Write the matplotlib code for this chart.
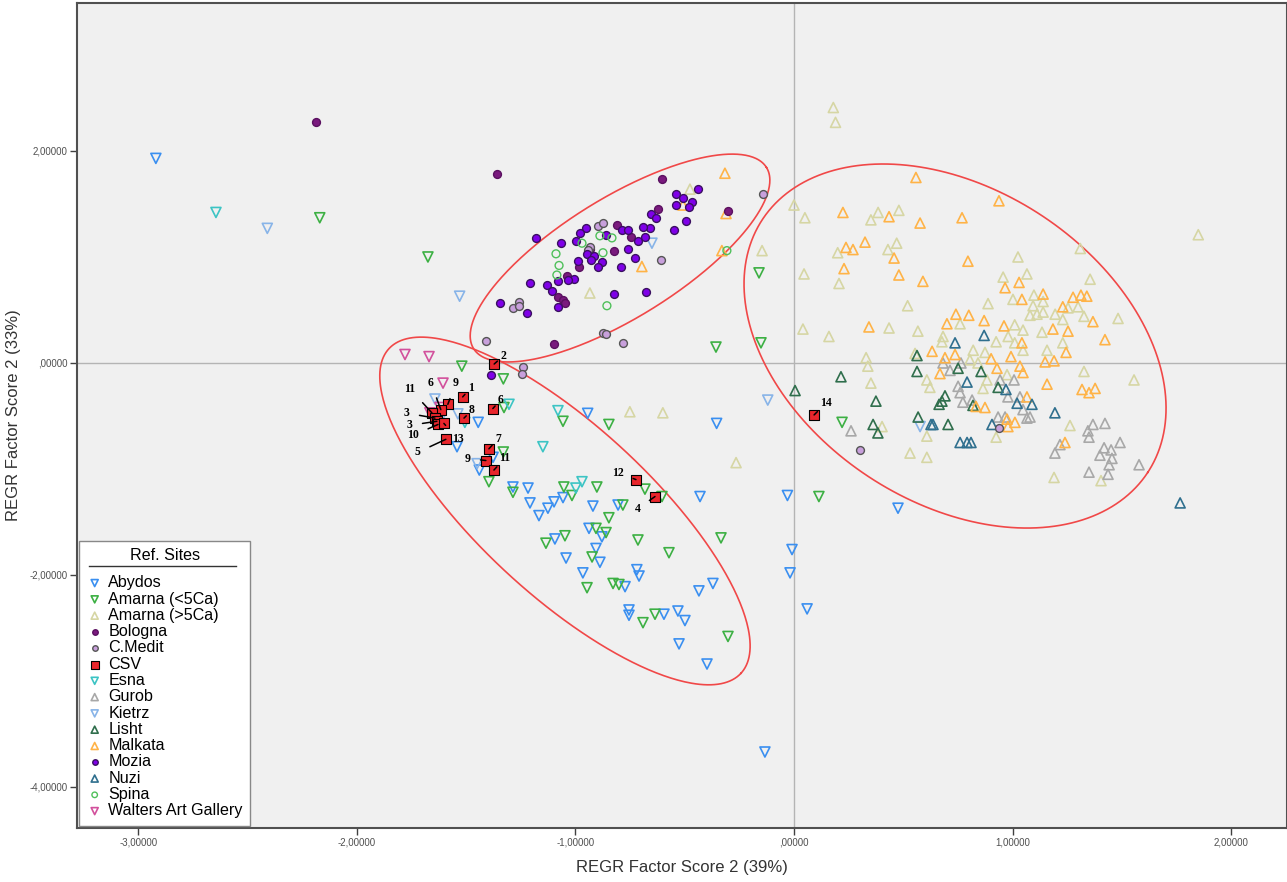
import numpy as np
import matplotlib
matplotlib.use("Agg")
import matplotlib.pyplot as plt
from matplotlib.ticker import FuncFormatter
from matplotlib.lines import Line2D
from matplotlib.transforms import IdentityTransform

plt.rcParams['font.family'] = ['Liberation Sans', 'DejaVu Sans']

# --- data (factor scores) ---
abydos = [(-2.92, 1.93), (-0.944, -0.475), (-0.354, -0.57), (-1.445, -0.56), (-1.542, -0.79),
          (-1.377, -0.89), (-1.44, -1.01), (-1.286, -1.17), (-1.217, -1.18), (-1.208, -1.32),
          (-1.167, -1.44), (-1.126, -1.37), (-1.098, -1.31), (-1.057, -1.27), (-0.92, -1.35),
          (-0.805, -1.34), (-0.43, -1.26), (-0.938, -1.56), (-0.879, -1.64), (-1.094, -1.66),
          (-0.906, -1.75), (-1.043, -1.84), (-0.888, -1.88), (-0.966, -1.98), (-0.719, -1.95),
          (-0.709, -2.01), (-0.773, -2.11), (-0.371, -2.08), (-0.435, -2.15), (-0.755, -2.33),
          (-0.755, -2.38), (-0.595, -2.37), (-0.531, -2.34), (-0.499, -2.43), (-0.526, -2.65),
          (-0.398, -2.84), (-0.133, -3.67), (0.06, -2.32), (-0.018, -1.98), (-0.009, -1.76),
          (-0.03, -1.25), (0.476, -1.37)]
amarna_lo = [(-2.17, 1.37), (-1.675, 1.0), (-1.52, -0.03), (-0.357, 0.15), (-0.16, 0.85),
             (-0.151, 0.19), (0.114, -1.26), (0.22, -0.56), (-1.33, -0.15), (-1.327, -0.42),
             (-1.33, -0.84), (-1.396, -1.12), (-1.057, -0.55), (-0.847, -0.58), (-1.286, -1.22),
             (-1.053, -1.17), (-1.016, -1.25), (-0.902, -1.17), (-0.682, -1.19), (-0.604, -1.26),
             (-0.783, -1.34), (-0.847, -1.46), (-1.048, -1.63), (-1.135, -1.70), (-0.906, -1.56),
             (-0.86, -1.60), (-0.714, -1.67), (-0.572, -1.79), (-0.924, -1.83), (-0.334, -1.65),
             (-0.947, -2.12), (-0.828, -2.08), (-0.801, -2.09), (-0.691, -2.45), (-0.636, -2.37),
             (-0.302, -2.58)]
amarna_hi = [(0.18, 2.41), (0.19, 2.27), (1.85, 1.21), (-0.476, 1.64), (-0.934, 0.66),
             (-0.146, 1.06), (-0.751, -0.46), (-0.6, -0.47), (-0.265, -0.94), (0.0, 1.49),
             (0.05, 1.37), (0.385, 1.42), (0.48, 1.44), (0.352, 1.35), (0.2, 1.04), (0.43, 1.07),
             (0.47, 1.13), (0.046, 0.84), (0.206, 0.75), (0.52, 0.54), (1.31, 1.08), (1.025, 1.0),
             (0.957, 0.81), (1.066, 0.84), (1.355, 0.79), (0.888, 0.56), (1.002, 0.6),
             (1.098, 0.64), (1.14, 0.58), (1.094, 0.54), (1.08, 0.45), (1.112, 0.46), (1.14, 0.48),
             (1.195, 0.46), (1.23, 0.41), (1.254, 0.52), (1.30, 0.53), (1.327, 0.44), (1.483, 0.42),
             (0.041, 0.32), (0.16, 0.25), (0.435, 0.33), (0.567, 0.30), (0.76, 0.37), (0.682, 0.25),
             (0.677, 0.2), (1.01, 0.36), (1.048, 0.31), (0.98, 0.25), (1.01, 0.19), (1.048, 0.12),
             (1.135, 0.29), (1.23, 0.19), (1.158, 0.12), (0.82, 0.12), (0.874, 0.1), (0.925, 0.2),
             (0.33, 0.05), (0.338, -0.03), (0.554, 0.09), (0.608, -0.16), (0.622, -0.23),
             (0.352, -0.19), (0.805, 0.03), (0.842, 0.0), (0.883, -0.16), (0.865, -0.24),
             (0.975, -0.11), (1.327, -0.08), (1.556, -0.16), (0.403, -0.60), (0.608, -0.69),
             (0.531, -0.85), (0.608, -0.89), (0.925, -0.70), (1.263, -0.59), (1.19, -1.08),
             (1.405, -1.11)]
bologna = [(-2.188, 2.27), (-1.359, 1.78), (-0.604, 1.74), (-0.622, 1.45), (-0.81, 1.30),
           (-0.746, 1.19), (-0.824, 1.06), (-0.984, 0.91), (-1.039, 0.82), (-1.08, 0.62),
           (-1.057, 0.59), (-1.048, 0.57), (-1.098, 0.18), (-0.302, 1.43), (-0.934, 1.08)]
c_medit = [(-0.142, 1.59), (-0.897, 1.29), (-0.874, 1.32), (-0.934, 1.09), (-0.609, 0.97),
           (-1.259, 0.58), (-1.286, 0.52), (-1.259, 0.54), (-1.41, 0.21), (-0.874, 0.28),
           (-0.861, 0.27), (-0.783, 0.19), (-0.943, 1.07), (-1.24, -0.04), (-1.245, -0.10),
           (0.302, -0.82), (0.938, -0.61)]
csv = [(-1.372, -0.01), (-1.516, -0.32), (-1.378, -0.43), (-1.51, -0.52), (-1.584, -0.39),
       (-1.616, -0.44), (-1.657, -0.47), (-1.643, -0.52), (-1.634, -0.55), (-1.629, -0.58),
       (-1.602, -0.57), (-1.593, -0.72), (-1.396, -0.81), (-1.41, -0.92), (-1.373, -1.01),
       (-0.723, -1.10), (-0.636, -1.26), (0.092, -0.49)]
csv_labels = ['2', '1', '6', '8', '9', '6', '11', '3', '3', '10', '13', '5', '7', '9', '11',
              '12', '4', '14']
esna = [(-2.645, 1.42), (-1.149, -0.79), (-1.304, -0.39), (-1.506, -0.56), (-1.08, -0.45),
        (-0.97, -1.12), (-0.998, -1.18)]
gurob = [(0.682, 0.0), (0.714, -0.07), (0.764, 0.0), (0.751, -0.22), (0.76, -0.28),
         (0.773, -0.37), (0.815, -0.35), (0.943, -0.16), (1.007, -0.16), (0.979, -0.32),
         (1.034, -0.32), (1.048, -0.44), (0.934, -0.51), (0.966, -0.51), (1.066, -0.52),
         (1.08, -0.51), (0.261, -0.64), (1.368, -0.58), (1.423, -0.57), (1.345, -0.64),
         (1.35, -0.70), (1.492, -0.75), (1.419, -0.80), (1.451, -0.82), (1.217, -0.77),
         (1.194, -0.85), (1.40, -0.87), (1.455, -0.90), (1.442, -0.96), (1.579, -0.96),
         (1.35, -1.03), (1.437, -1.05)]
kietrz = [(-2.41, 1.27), (-1.53, 0.63), (-0.65, 1.13), (-0.12, -0.35), (0.577, -0.60),
          (-1.643, -0.34), (-1.538, -0.48), (-1.62, -0.54), (-1.45, -0.95)]
lisht = [(0.563, 0.07), (0.563, -0.08), (0.751, -0.05), (0.856, -0.08), (0.215, -0.13),
         (0.005, -0.26), (0.375, -0.36), (0.691, -0.31), (0.677, -0.36), (0.664, -0.39),
         (0.819, -0.40), (0.934, -0.23), (0.568, -0.51), (0.362, -0.58), (0.384, -0.66),
         (0.705, -0.58)]
malkata = [(0.558, 1.75), (0.938, 1.53), (0.224, 1.42), (0.435, 1.38), (0.577, 1.32),
           (0.769, 1.37), (0.325, 1.14), (0.238, 1.09), (0.27, 1.07), (0.458, 0.99),
           (0.229, 0.89), (0.48, 0.83), (0.59, 0.77), (0.796, 0.96), (1.03, 0.76), (0.966, 0.71),
           (1.043, 0.60), (1.14, 0.65), (1.277, 0.62), (1.313, 0.64), (1.34, 0.63), (1.23, 0.53),
           (1.368, 0.39), (0.741, 0.46), (0.80, 0.45), (0.87, 0.40), (0.70, 0.37), (0.961, 0.35),
           (0.343, 0.34), (1.185, 0.32), (1.254, 0.30), (1.423, 0.22), (1.043, 0.19),
           (1.245, 0.10), (0.632, 0.11), (0.737, 0.08), (0.691, 0.05), (0.993, 0.06),
           (0.902, 0.04), (0.929, -0.05), (1.034, -0.03), (1.048, -0.09), (1.149, 0.01),
           (1.19, 0.02), (0.668, -0.10), (1.158, -0.20), (1.318, -0.25), (1.35, -0.28),
           (1.378, -0.24), (0.833, -0.41), (0.874, -0.42), (1.066, -0.32), (0.975, -0.53),
           (1.011, -0.56), (0.979, -0.60), (1.24, -0.75), (-0.316, 1.79), (-0.311, 1.41),
           (-0.33, 1.06), (-0.696, 0.91), (-0.508, 1.49)]
mozia = [(-0.44, 1.64), (-0.54, 1.59), (-0.508, 1.56), (-0.467, 1.52), (-0.54, 1.49),
         (-0.48, 1.47), (-0.654, 1.41), (-0.632, 1.37), (-0.494, 1.34), (-0.549, 1.25),
         (-0.659, 1.27), (-0.691, 1.28), (-0.787, 1.25), (-0.76, 1.25), (-0.714, 1.15),
         (-0.682, 1.19), (-0.86, 1.21), (-0.952, 1.27), (-0.979, 1.23), (-0.998, 1.15),
         (-1.066, 1.13), (-0.947, 1.03), (-0.915, 1.01), (-0.929, 0.97), (-0.989, 0.96),
         (-0.879, 0.95), (-0.897, 0.91), (-0.76, 1.08), (-0.728, 0.99), (-0.792, 0.91),
         (-1.181, 1.18), (-1.007, 0.79), (-1.034, 0.78), (-1.08, 0.77), (-1.13, 0.74),
         (-1.208, 0.75), (-1.108, 0.68), (-0.824, 0.65), (-0.677, 0.67), (-1.08, 0.53),
         (-1.222, 0.47), (-1.346, 0.57), (-1.387, -0.11)]
nuzi = [(0.87, 0.26), (0.737, 0.19), (0.792, -0.18), (0.97, -0.25), (1.021, -0.38),
        (1.089, -0.39), (1.194, -0.47), (0.636, -0.58), (0.627, -0.58), (0.906, -0.58),
        (0.76, -0.75), (0.792, -0.75), (0.81, -0.75), (1.767, -1.32)]
spina = [(-1.089, 1.03), (-1.075, 0.92), (-1.085, 0.83), (-0.97, 1.13), (-0.888, 1.20),
         (-0.833, 1.18), (-0.874, 1.04), (-0.856, 0.54), (-0.307, 1.06)]
walters = [(-1.78, 0.08), (-1.67, 0.06), (-1.606, -0.19), (-1.666, -0.47), (-1.62, -0.42)]

# label offsets (pixels) for the CSV samples
csv_offsets = [(9, 8), (8, 9), (8, 9), (8, 8), (8, 21), (-10, 27), (-22, 24), (-28, 5),
               (-27, -4), (-25, -11), (14, -16), (-28, -13), (9, 10), (-18, 2), (11, 12),
               (-18, 7), (-17, -12), (12, 12)]

# site name, points, marker, face, edge
sites = [
    ('Abydos', abydos, 'v', 'none', '#3a8ff0'),
    ('Amarna (<5Ca)', amarna_lo, 'v', 'none', '#3cb043'),
    ('Amarna (>5Ca)', amarna_hi, '^', 'none', '#d6d6a4'),
    ('Bologna', bologna, 'o', '#7a1a7e', '#5a1060'),
    ('C.Medit', c_medit, 'o', '#c8a0dc', '#555555'),
    ('CSV', csv, 's', '#e8262c', '#000000'),
    ('Esna', esna, 'v', 'none', '#3cc4c4'),
    ('Gurob', gurob, '^', 'none', '#a8a8a8'),
    ('Kietrz', kietrz, 'v', 'none', '#88b4e8'),
    ('Lisht', lisht, '^', 'none', '#2f6e4c'),
    ('Malkata', malkata, '^', 'none', '#ffb347'),
    ('Mozia', mozia, 'o', '#7f00e8', '#3a1060'),
    ('Nuzi', nuzi, '^', 'none', '#2f6f8e'),
    ('Spina', spina, 'o', 'none', '#4fc05a'),
    ('Walters Art Gallery', walters, 'v', 'none', '#d2509c'),
]

# ellipses: centre, two conjugate half-axis vectors (data units)
ellipses = [
    ((-0.796, 0.99), (0.67, 0.855), (-0.1455, 0.48)),
    ((0.737, 0.16), (0.882, -1.192), (-0.393, -1.236)),
    ((-1.048, -1.396), (0.8055, -1.531), (-0.263, -0.588)),
]

fig = plt.figure(figsize=(12.87, 8.82), dpi=100)
ax = fig.add_axes([0.0598, 0.0612, 0.9402, 0.9354])
ax.set_facecolor('#f0f0f0')

ax.axvline(0, color='#b4b4b4', lw=1, zorder=1)
ax.axhline(0, color='#b4b4b4', lw=1, zorder=1)

handles = []
for name, pts, mk, fc, ec in sites:
    xs = [p[0] for p in pts]
    ys = [p[1] for p in pts]
    if mk in ('v', '^'):
        h = ax.scatter(xs, ys, s=52, marker=mk, facecolors=fc, edgecolors=ec,
                       linewidths=1.2, zorder=3)
    elif mk == 's':
        h = ax.scatter(xs, ys, s=55, marker=mk, facecolors=fc, edgecolors=ec,
                       linewidths=0.8, zorder=5)
    else:
        h = ax.scatter(xs, ys, s=32, marker=mk, facecolors=fc, edgecolors=ec,
                       linewidths=1.0, zorder=4)
    handles.append(h)

for (x, y), lab, (dx, dy) in zip(csv, csv_labels, csv_offsets):
    ax.annotate(lab, (x, y), xytext=(dx, dy), textcoords='offset pixels',
                ha='center', va='center', fontsize=8.5, fontweight='bold',
                family='Liberation Serif', zorder=6,
                arrowprops=dict(arrowstyle='-', color='black', lw=1.1,
                                shrinkA=5, shrinkB=0))

t = np.linspace(0, 2 * np.pi, 400)
for c, u, v in ellipses:
    ex = c[0] + u[0] * np.cos(t) + v[0] * np.sin(t)
    ey = c[1] + u[1] * np.cos(t) + v[1] * np.sin(t)
    ax.plot(ex, ey, color='#f04848', lw=1.2, zorder=2)

ax.set_xlim(-3.281, 2.256)
ax.set_ylim(-4.387, 3.396)
ax.set_xticks([-3, -2, -1, 0, 1, 2])
ax.set_yticks([-4, -2, 0, 2])


def spss_fmt(v, pos):
    s = f"{v:.5f}".replace('.', ',')
    if s.startswith('0,'):
        s = s[1:]
    return s


ax.xaxis.set_major_formatter(FuncFormatter(spss_fmt))
ax.yaxis.set_major_formatter(FuncFormatter(spss_fmt))
ax.tick_params(direction='out', length=5, width=1, color='#404040',
               labelsize=7, labelcolor='#505050', pad=2)
for sp in ax.spines.values():
    sp.set_color('#505050')
    sp.set_linewidth(1.5)

ax.set_xlabel('REGR Factor Score 2 (39%)', fontsize=12, color='#333333', labelpad=9)
ax.set_ylabel('REGR Factor Score 2 (33%)', fontsize=12, color='#333333', labelpad=6)

leg = ax.legend(handles, [s[0] for s in sites], title='Ref. Sites', loc='lower left',
                bbox_to_anchor=(0.0, 0.0), borderaxespad=0.15, fontsize=11.6,
                title_fontsize=11.6, frameon=True, fancybox=False, edgecolor='#888888',
                framealpha=1, labelspacing=0.08, handletextpad=0.35, handlelength=1.0,
                borderpad=0.45, markerscale=0.7, alignment='center')
leg.set_zorder(10)
leg._legend_box.sep = 9

# underline below the legend title
fig.canvas.draw()
fr = leg.get_frame().get_window_extent()
tb = leg.get_title().get_window_extent()
fig.add_artist(Line2D([fr.x0 + 10, fr.x1 - 14], [tb.y0 - 3, tb.y0 - 3],
                      transform=IdentityTransform(), color='#333333', lw=1, zorder=11))

fig.savefig('out.png', dpi=100)
